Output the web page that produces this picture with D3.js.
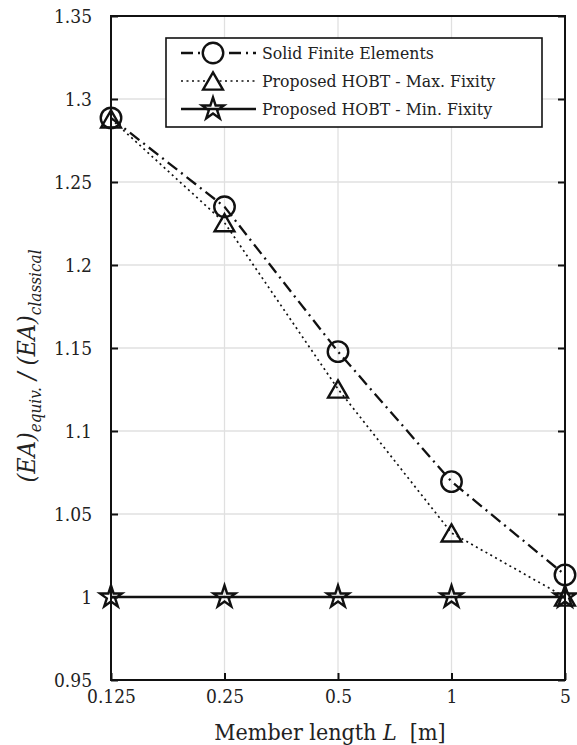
<!DOCTYPE html>
<html>
<head>
<meta charset="utf-8">
<script src="https://cdn.jsdelivr.net/npm/d3@7"></script>
<style>
  body { margin: 0; background: #fff; }
  svg text { font-family: "DejaVu Serif", serif !important; font-stretch: condensed; }
</style>
</head>
<body>
<div id="chart"></div>
<script>
// member lengths (categorical, equally spaced)
const lengths = ["0.125", "0.25", "0.5", "1", "5"];
const yTicks = [0.95, 1, 1.05, 1.1, 1.15, 1.2, 1.25, 1.3, 1.35];

const solidFE = [1.2886, 1.2351, 1.1478, 1.0695, 1.0133];
const hobtMax = [1.2880, 1.2255, 1.1253, 1.0386, 1.0000];
const hobtMin = [1.0, 1.0, 1.0, 1.0, 1.0];

const seriesNames = ["Solid Finite Elements", "Proposed HOBT - Max. Fixity", "Proposed HOBT - Min. Fixity"];

const W = 577, H = 745;
const plotL = 111, plotR = 565, plotT = 16, plotB = 680;

const svg = d3.select("#chart").append("svg")
    .attr("width", W).attr("height", H);

const x = d3.scalePoint().domain(lengths).range([plotL, plotR]);
const y = d3.scaleLinear().domain([0.95, 1.35]).range([plotB, plotT]);

// grid
svg.append("g").selectAll("line")
    .data(lengths.slice(1, -1)).enter().append("line")
    .attr("x1", d => x(d)).attr("x2", d => x(d))
    .attr("y1", plotT).attr("y2", plotB)
    .attr("stroke", "#e0e0e0").attr("stroke-width", 1.3);
svg.append("g").selectAll("line")
    .data(yTicks.slice(1, -1)).enter().append("line")
    .attr("x1", plotL).attr("x2", plotR)
    .attr("y1", d => y(d)).attr("y2", d => y(d))
    .attr("stroke", "#e0e0e0").attr("stroke-width", 1.3);

// axes (ticks pointing inside)
const yAxisL = svg.append("g").attr("transform", `translate(${plotL},0)`)
    .call(d3.axisLeft(y).tickValues(yTicks).tickSize(-7).tickPadding(19).tickFormat(d3.format("")));
const yAxisR = svg.append("g").attr("transform", `translate(${plotR},0)`)
    .call(d3.axisRight(y).tickValues(yTicks).tickSize(-7).tickFormat(""));
const xAxisB = svg.append("g").attr("transform", `translate(0,${plotB})`)
    .call(d3.axisBottom(x).tickSize(-7).tickPadding(9));

[yAxisL, yAxisR, xAxisB].forEach(a => {
    a.select(".domain").remove();
    a.selectAll(".tick line").attr("stroke", "#111").attr("stroke-width", 2);
    a.selectAll("text").attr("font-size", 19).attr("fill", "#222");
});
yAxisL.selectAll("text").attr("dy", "0.36em");
xAxisB.selectAll("text").attr("dy", "0.76em");

// frame
svg.append("rect")
    .attr("x", plotL).attr("y", plotT)
    .attr("width", plotR - plotL).attr("height", plotB - plotT)
    .attr("fill", "none").attr("stroke", "#111").attr("stroke-width", 2);

const line = d3.line().x((d, i) => x(lengths[i])).y(d => y(d));

const styles = [
    { data: solidFE, dash: "12,5,2,5", width: 2.3, marker: "circle" },
    { data: hobtMax, dash: "2,3.5", width: 1.7, marker: "triangle" },
    { data: hobtMin, dash: null, width: 2.6, marker: "star" }
];

const triSize = 170;
const triShift = Math.sqrt(triSize / (Math.sqrt(3) * 3)) / 2;
const markerPath = {
    circle: d3.symbol(d3.symbolCircle, 330)(),
    triangle: d3.symbol(d3.symbolTriangle, triSize)(),
    star: d3.symbol(d3.symbolStar, 150)()
};
const shiftOf = m => (m === "triangle" ? triShift : 0);

styles.forEach(s => {
    svg.append("path").datum(s.data)
        .attr("d", line)
        .attr("fill", "none").attr("stroke", "#111")
        .attr("stroke-width", s.width)
        .attr("stroke-dasharray", s.dash);
});
styles.forEach(s => {
    svg.append("g").selectAll("path")
        .data(s.data).enter().append("path")
        .attr("transform", (d, i) => `translate(${x(lengths[i])},${y(d) + shiftOf(s.marker)})`)
        .attr("d", markerPath[s.marker])
        .attr("fill", "none").attr("stroke", "#111").attr("stroke-width", 2.4);
});

// legend
const lg = svg.append("g");
lg.append("rect").attr("x", 166).attr("y", 38).attr("width", 376).attr("height", 89)
    .attr("fill", "#fff").attr("stroke", "#111").attr("stroke-width", 1.6);
const rowY = [53, 81, 109];
styles.forEach((s, i) => {
    lg.append("line").attr("x1", 181).attr("x2", 256)
        .attr("y1", rowY[i]).attr("y2", rowY[i])
        .attr("stroke", "#111").attr("stroke-width", s.width)
        .attr("stroke-dasharray", s.dash);
    lg.append("path")
        .attr("transform", `translate(213,${rowY[i] + shiftOf(s.marker)})`)
        .attr("d", markerPath[s.marker])
        .attr("fill", s.marker === "star" ? "none" : "#fff")
        .attr("stroke", "#111").attr("stroke-width", 2.4);
    lg.append("text").attr("x", 262).attr("y", rowY[i]).attr("dy", "0.36em")
        .attr("font-size", 17.5).attr("fill", "#222").text(seriesNames[i]);
});

// x axis title
const xt = svg.append("text").attr("x", 330).attr("y", 740)
    .attr("text-anchor", "middle").attr("font-size", 23).attr("fill", "#222");
xt.append("tspan").text("Member length ");
xt.append("tspan").attr("font-style", "italic").text("L");
xt.append("tspan").text("\u00a0 [m]");

// y axis title
const yt = svg.append("text")
    .attr("transform", "translate(35,366) rotate(-90)")
    .attr("text-anchor", "middle").attr("font-size", 25)
    .attr("font-style", "italic").attr("fill", "#222");
yt.append("tspan").text("(EA)");
yt.append("tspan").attr("font-size", 17).attr("dy", 6).text("equiv.");
yt.append("tspan").attr("dy", -6).text(" / (EA)");
yt.append("tspan").attr("font-size", 17).attr("dy", 6).text("classical");
</script>
</body>
</html>
